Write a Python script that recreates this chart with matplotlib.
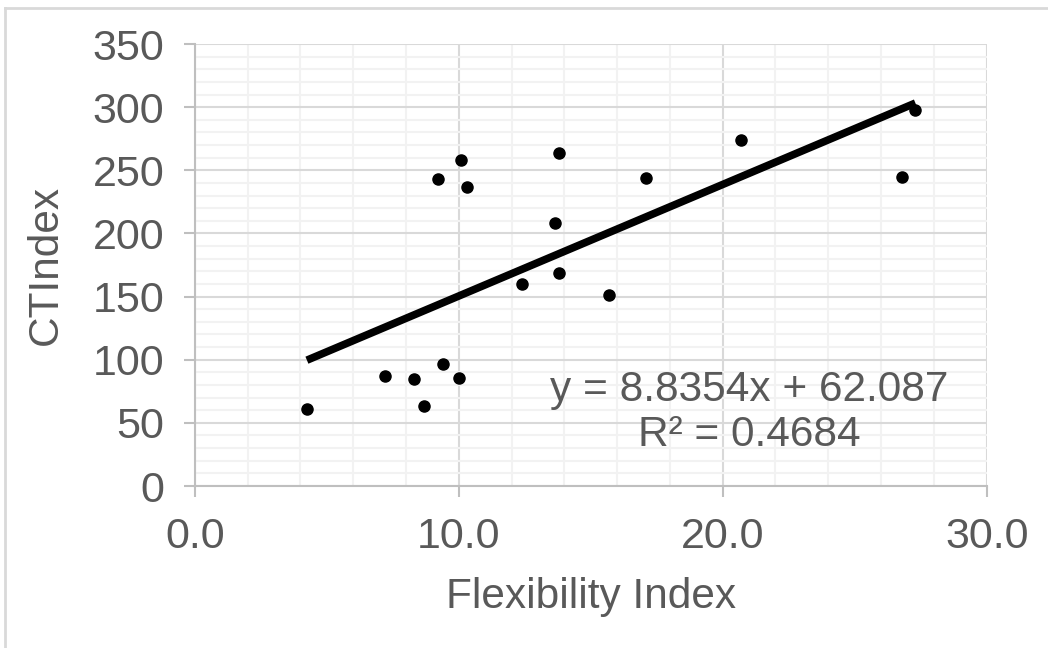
import matplotlib
matplotlib.use("Agg")
from matplotlib import pyplot as plt
from matplotlib.ticker import MultipleLocator, FormatStrFormatter
import numpy as np

# valores
flex = [4.25, 7.2, 8.3, 8.7, 9.4, 10.0, 9.2, 10.1, 10.3, 12.4,
        13.65, 13.8, 13.8, 15.7, 17.1, 20.7, 26.8, 27.3]
ctindex = [61, 87, 85, 63, 97, 85.5, 243, 258, 237, 160,
           208, 264, 169, 151, 244, 274, 245, 298]

pendiente = 8.8354
intercepto = 62.087
r2 = 0.4684

gris = '#595959'
plt.rcParams['font.family'] = ['Liberation Sans', 'DejaVu Sans']

fig = plt.figure(figsize=(10.48, 6.48), dpi=100)
ax = fig.add_axes([0.1858, 0.25, 0.7557, 0.682])

# borde del grafico (solo arriba e izquierda visibles)
fig.add_artist(plt.Line2D([5 / 1048, 5 / 1048], [0, 1 - 8 / 648],
                          transform=fig.transFigure, color='#d9d9d9', lw=2))
fig.add_artist(plt.Line2D([5 / 1048, 1], [1 - 8 / 648, 1 - 8 / 648],
                          transform=fig.transFigure, color='#d9d9d9', lw=2))

ax.set_xlim(0, 30)
ax.set_ylim(0, 350)
ax.xaxis.set_major_locator(MultipleLocator(10))
ax.xaxis.set_minor_locator(MultipleLocator(2))
ax.yaxis.set_major_locator(MultipleLocator(50))
ax.yaxis.set_minor_locator(MultipleLocator(10))
ax.xaxis.set_major_formatter(FormatStrFormatter('%.1f'))

ax.grid(True, which='minor', color='#f2f2f2', lw=1.5, zorder=0)
ax.grid(True, which='major', color='#d9d9d9', lw=1.5, zorder=0)
ax.set_axisbelow(True)

for lado in ['top', 'right']:
    ax.spines[lado].set_visible(False)
for lado in ['left', 'bottom']:
    ax.spines[lado].set_color('#bfbfbf')
    ax.spines[lado].set_linewidth(1.5)

ax.tick_params(which='major', direction='out', length=8, width=1.5,
               color='#bfbfbf', labelsize=31, labelcolor=gris, pad=14)
ax.tick_params(which='minor', length=0)

ax.scatter(flex, ctindex, s=64, color='black', zorder=3)

xs = np.array([min(flex), max(flex)])
ax.plot(xs, pendiente * xs + intercepto, color='black', lw=5.5,
        solid_capstyle='butt', zorder=4)

ax.text(21.0, 58, 'y = %.4fx + %.3f\nR² = %.4f' % (pendiente, intercepto, r2),
        ha='center', va='center', multialignment='center', fontsize=30.5,
        color=gris, linespacing=1.15, zorder=5)

ax.set_xlabel('Flexibility Index', fontsize=30.5, color=gris)
ax.set_ylabel('CTIndex', fontsize=30.5, color=gris)
ax.xaxis.set_label_coords(0.5, -0.205)
ax.yaxis.set_label_coords(-0.163, 0.5)

fig.savefig('out.png', dpi=100)
